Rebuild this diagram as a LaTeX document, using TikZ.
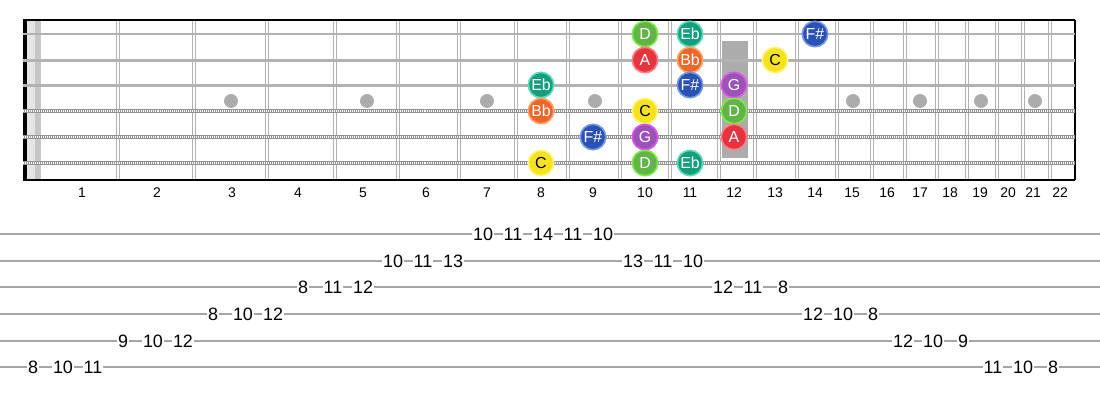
\documentclass[tikz,border=0pt]{standalone}
\usepackage{fontspec}
\setmainfont{Liberation Sans}
\usetikzlibrary{positioning}

\definecolor{Dfill}{RGB}{98,180,72}    \definecolor{Dring}{RGB}{125,235,70}
\definecolor{Ebfill}{RGB}{20,158,124}  \definecolor{Ebring}{RGB}{95,220,185}
\definecolor{Afill}{RGB}{230,52,62}    \definecolor{Aring}{RGB}{255,125,135}
\definecolor{Bbfill}{RGB}{240,102,42}  \definecolor{Bbring}{RGB}{255,165,105}
\definecolor{Fsfill}{RGB}{42,82,180}   \definecolor{Fsring}{RGB}{115,150,230}
\definecolor{Gfill}{RGB}{155,82,185}   \definecolor{Gring}{RGB}{225,85,235}
\definecolor{Cfill}{RGB}{246,226,30}   \definecolor{Cring}{RGB}{255,246,125}

\tikzset{
  fret/.style={gray!60, line width=1},
  plainstring/.style={gray!60, line width=3},
  woundstring/.style={gray!85, line width=4.2},
  marker/.style={circle, fill=gray!65, inner sep=0, minimum size=14},
  note/.style={circle, inner sep=0, minimum size=25.5, line width=1.6,
    text=white, font=\fontsize{16}{16}\selectfont},
  nD/.style={note, fill=Dfill, draw=Dring},
  nEb/.style={note, fill=Ebfill, draw=Ebring},
  nA/.style={note, fill=Afill, draw=Aring},
  nBb/.style={note, fill=Bbfill, draw=Bbring},
  nFs/.style={note, fill=Fsfill, draw=Fsring},
  nG/.style={note, fill=Gfill, draw=Gring},
  nC/.style={note, fill=Cfill, draw=Cring, text=black},
  fretnum/.style={font=\fontsize{14}{14}\selectfont},
  tabline/.style={gray!70, line width=1.3},
  tabnum/.style={fill=white, inner sep=.6, font=\fontsize{18}{18}\selectfont},
}

\begin{document}
\begin{tikzpicture}[x=1bp, y=-1bp]
  \useasboundingbox (0, 0) rectangle (1100, 400);

  % nut and 12th fret bar
  \fill[gray!20] (27, 20) rectangle (35, 180);
  \fill[gray!45] (35, 20) rectangle (41, 180);
  \fill[gray!65] (722, 41) rectangle (748, 158);
  \foreach \x [count=\i] in {231, 367, 487, 595, 853, 920, 981, 1035}
    \node[marker] (dot\i) at (\x, 101) {};

  % frets (double wire)
  \foreach \x in {118, 194, 267, 335, 398, 459, 516, 568, 620, 670, 719,
                  755, 797, 837, 872, 905, 937, 967, 997, 1023, 1050} {
    \draw[fret] (\x-1.5, 20) -- (\x-1.5, 180);
    \draw[fret] (\x+1.5, 20) -- (\x+1.5, 180);
  }

  % frame
  \fill (23, 20) rectangle (27, 180);
  \draw[line width=2] (23, 20) -- (1075, 20);
  \draw[line width=2] (23, 180) -- (1075, 180);
  \draw[line width=2] (1075, 20) -- (1075, 180);

  % strings
  \foreach \y in {34, 60, 85}
    \draw[plainstring] (23, \y) -- (1075, \y);
  \foreach \y in {111, 137, 163} {
    \draw[woundstring] (23, \y) -- (1075, \y);
    \draw[white, line width=2.2, dash pattern=on .9 off 1.1] (23, \y) -- (1075, \y);
  }

  % fret numbers
  \foreach \x [count=\n] in {82, 157, 232, 298, 363, 426, 487, 541, 593, 645, 690,
                             734, 775, 815, 852, 887, 920, 950, 980, 1008, 1033, 1060}
    \node[fretnum] (fn\n) at (\x, 193) {\n};

  % notes
  \node[nD]  (s1f10) at (645, 34) {D};
  \node[nEb] (s1f11) at (690, 34) {Eb};
  \node[nFs] (s1f14) at (815, 34) {F\#};
  \node[nA]  (s2f10) at (645, 60) {A};
  \node[nBb] (s2f11) at (690, 60) {Bb};
  \node[nC]  (s2f13) at (775, 60) {C};
  \node[nEb] (s3f8)  at (541, 85) {Eb};
  \node[nFs] (s3f11) at (690, 85) {F\#};
  \node[nG]  (s3f12) at (734, 85) {G};
  \node[nBb] (s4f8)  at (541, 111) {Bb};
  \node[nC]  (s4f10) at (645, 111) {C};
  \node[nD]  (s4f12) at (734, 111) {D};
  \node[nFs] (s5f9)  at (593, 137) {F\#};
  \node[nG]  (s5f10) at (645, 137) {G};
  \node[nA]  (s5f12) at (734, 137) {A};
  \node[nC]  (s6f8)  at (541, 163) {C};
  \node[nD]  (s6f10) at (645, 163) {D};
  \node[nEb] (s6f11) at (690, 163) {Eb};

  % tab
  \foreach \y [count=\s] in {234, 261, 287, 314, 341, 367}
    \draw[tabline] (0, \y) coordinate (tl\s) -- (1100, \y) coordinate (tr\s);
  \foreach \x/\y/\t [count=\i] in {
      33/367/8, 63/367/10, 93/367/11,
      123/341/9, 153/341/10, 183/341/12,
      213/314/8, 243/314/10, 273/314/12,
      303/287/8, 333/287/11, 363/287/12,
      393/261/10, 423/261/11, 453/261/13,
      483/234/10, 513/234/11, 543/234/14, 573/234/11, 603/234/10,
      633/261/13, 663/261/11, 693/261/10,
      723/287/12, 753/287/11, 783/287/8,
      813/314/12, 843/314/10, 873/314/8,
      903/341/12, 933/341/10, 963/341/9,
      993/367/11, 1023/367/10, 1053/367/8}
    \node[tabnum] (tab\i) at (\x, \y) {\t};
\end{tikzpicture}
\end{document}
